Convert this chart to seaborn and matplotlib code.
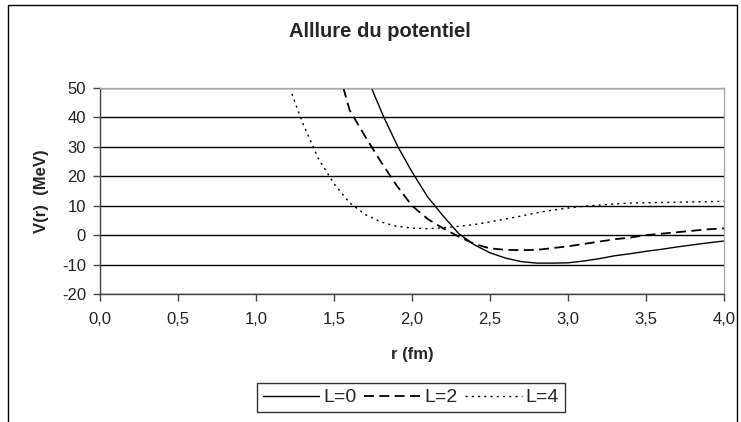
import matplotlib
matplotlib.use("Agg")
import matplotlib.pyplot as plt
import seaborn as sns
import pandas as pd
import numpy as np
from matplotlib.patches import Rectangle
from matplotlib.ticker import FuncFormatter

# Data
r_L0 = [1.74, 1.82, 1.91, 2.0, 2.1, 2.2, 2.3, 2.4, 2.5, 2.6, 2.7, 2.8, 2.9, 3.0,
        3.1, 3.2, 3.3, 3.4, 3.5, 3.6, 3.7, 3.8, 3.9, 4.0]
v_L0 = [50, 40, 30, 21.5, 13, 6.5, 0.5, -3.3, -6, -7.8, -9, -9.5, -9.5, -9.4,
        -8.8, -8, -7, -6.3, -5.5, -4.8, -4.0, -3.3, -2.6, -2.0]

r_L2 = [1.56, 1.6, 1.7, 1.8, 1.9, 2.0, 2.1, 2.2, 2.3, 2.4, 2.5, 2.6, 2.7, 2.8,
        2.9, 3.0, 3.1, 3.2, 3.3, 3.4, 3.5, 3.6, 3.7, 3.8, 3.9, 4.0]
v_L2 = [50, 42.5, 33.5, 25, 17, 10, 5.5, 2.3, -0.5, -3, -4.5, -5, -5.1, -5,
        -4.4, -3.8, -3, -2.2, -1.4, -0.8, 0, 0.5, 1, 1.5, 2, 2.3]

r_L4 = [1.23, 1.3, 1.4, 1.5, 1.6, 1.7, 1.8, 1.9, 2.0, 2.1, 2.2, 2.3, 2.4, 2.5,
        2.6, 2.7, 2.8, 2.9, 3.0, 3.1, 3.2, 3.3, 3.4, 3.5, 3.6, 3.7, 3.8, 3.9, 4.0]
v_L4 = [48, 38, 26, 17.5, 11, 7, 4.5, 3, 2.4, 2.2, 2.5, 3, 3.6, 4.5,
        5.5, 6.5, 7.6, 8.5, 9.2, 9.8, 10.2, 10.6, 10.9, 11, 11.1, 11.2, 11.3, 11.4, 11.5]

labels = ["L=0", "L=2", "L=4"]
title = "Alllure du potentiel"
xlabel = "r (fm)"
ylabel = "V(r)  (MeV)"
x_ticks = [0.0, 0.5, 1.0, 1.5, 2.0, 2.5, 3.0, 3.5, 4.0]
y_ticks = [-20, -10, 0, 10, 20, 30, 40, 50]

sns.set_theme(style="white")
plt.rcParams['font.family'] = ['Liberation Sans', 'DejaVu Sans']
plt.rcParams['axes.unicode_minus'] = False

fig = plt.figure(figsize=(7.41, 4.22), dpi=100)
ax = fig.add_axes([100/741, 1-294/422, (724-100)/741, (294-88)/422])

df0 = pd.DataFrame({"r": r_L0, "V": v_L0})
df2 = pd.DataFrame({"r": r_L2, "V": v_L2})
df4 = pd.DataFrame({"r": r_L4, "V": v_L4})

sns.lineplot(data=df0, x="r", y="V", ax=ax, color="black", lw=1.0,
             linestyle="-", label=labels[0])
sns.lineplot(data=df2, x="r", y="V", ax=ax, color="black", lw=1.3,
             label=labels[1])
ax.lines[-1].set_dashes([5.5, 3])
sns.lineplot(data=df4, x="r", y="V", ax=ax, color="black", lw=1.0,
             label=labels[2])
ax.lines[-1].set_dashes([1.5, 3])

ax.set_xlim(0, 4)
ax.set_ylim(-20, 50)
ax.set_xticks(x_ticks)
ax.set_yticks(y_ticks)
ax.xaxis.set_major_formatter(FuncFormatter(lambda v, p: f"{v:.1f}".replace(".", ",")))
ax.grid(axis="y", color="black", lw=1.0)
ax.grid(axis="x", visible=False)
ax.set_axisbelow(True)

for s in ["left", "bottom"]:
    ax.spines[s].set_color("#444444")
    ax.spines[s].set_linewidth(1.0)
for s in ["top", "right"]:
    ax.spines[s].set_color("#aaaaaa")
    ax.spines[s].set_linewidth(1.0)

ax.tick_params(axis="both", which="both", direction="out", length=5, width=1,
               color="#444444", labelsize=12, labelcolor="#222222", pad=5,
               left=True, bottom=True)
ax.tick_params(axis="x", pad=8)

ax.set_xlabel(xlabel, fontsize=12, fontweight="bold", labelpad=14)
ax.set_ylabel(ylabel, fontsize=12, fontweight="bold", labelpad=9)
fig.text(380/741, 1-37/422, title, ha="center", va="baseline", fontsize=14.5,
         fontweight="bold")

handles, lbls = ax.get_legend_handles_labels()
ax.get_legend().remove()
leg = fig.legend(handles, lbls, loc="upper center", bbox_to_anchor=(411/741, 1-383/422),
                 ncol=3, frameon=True, fancybox=False, edgecolor="black",
                 fontsize=14, handlelength=2.9, handletextpad=0.2, columnspacing=0.4,
                 borderpad=0.3, borderaxespad=0)
leg.get_frame().set_linewidth(1.0)

fig.patches.append(Rectangle((8/741, -0.05), (737-8)/741, 1-5/422+0.05,
                             transform=fig.transFigure, fill=False,
                             edgecolor="black", lw=1.0))

fig.savefig("out.png", dpi=100)
